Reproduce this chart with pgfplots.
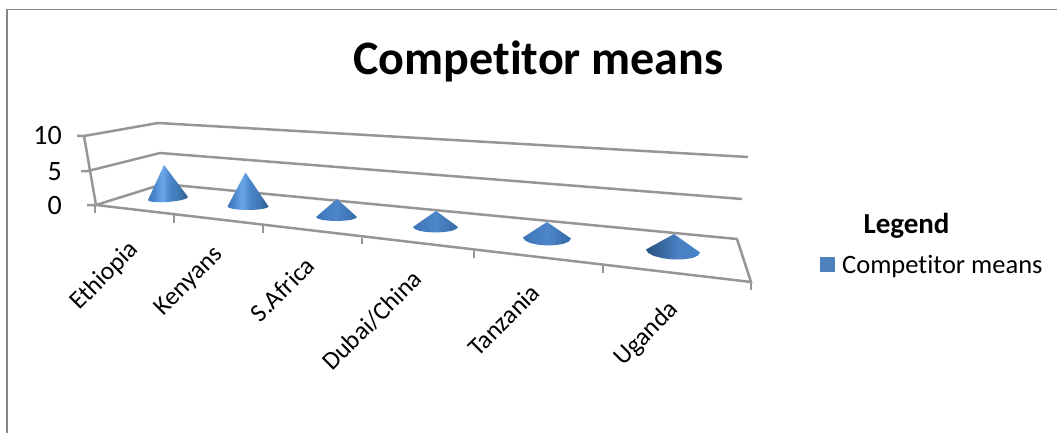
\documentclass[border=0pt]{standalone}
\usepackage{pgfplots}
\usepackage{pgfplotstable}
\usepackage{fontspec}
\pgfplotsset{compat=1.18}
\setmainfont[Ligatures=NoCommon]{Carlito}

\definecolor{framegray}{RGB}{134,134,134}
\definecolor{gridgray}{RGB}{150,150,150}
\definecolor{seriesblue}{RGB}{79,129,189}

% Light falls from the left on the tall cones, head on for the flat ones.
\pgfdeclarehorizontalshading{coneTall}{100bp}{
  rgb(0bp)=(0.24,0.47,0.74);
  rgb(25bp)=(0.24,0.47,0.74);
  rgb(33bp)=(0.29,0.53,0.80);
  rgb(43bp)=(0.42,0.66,0.92);
  rgb(52bp)=(0.29,0.53,0.79);
  rgb(66bp)=(0.24,0.45,0.68);
  rgb(75bp)=(0.17,0.33,0.52);
  rgb(100bp)=(0.17,0.33,0.52)}
\pgfdeclarehorizontalshading{coneFlat}{100bp}{
  rgb(0bp)=(0.24,0.46,0.72);
  rgb(25bp)=(0.24,0.46,0.72);
  rgb(50bp)=(0.30,0.53,0.79);
  rgb(75bp)=(0.21,0.41,0.65);
  rgb(100bp)=(0.21,0.41,0.65)}
\pgfdeclarehorizontalshading{coneLast}{100bp}{
  rgb(0bp)=(0.17,0.32,0.51);
  rgb(25bp)=(0.17,0.32,0.51);
  rgb(42bp)=(0.23,0.42,0.65);
  rgb(55bp)=(0.29,0.51,0.77);
  rgb(75bp)=(0.27,0.50,0.78);
  rgb(100bp)=(0.27,0.50,0.78)}

% Outline of a unit cone: the tip (h=1), then the front rim of its base.
\pgfplotstableread{
u v h
0 0 1
-1 0 0
-0.92 0.38 0
-0.71 0.71 0
-0.38 0.92 0
0 1 0
0.38 0.92 0
0.71 0.71 0
0.92 0.38 0
1 0 0
}\unitcone

% #1 shading, #2 mean value, #3 pixels per unit at this depth,
% #4,#5 base centre, #6,#7 base radii, #8 base tilt, #9 tip x
\newcommand{\cone}[9]{%
  \addplot[draw=none, forget plot, shading=#1, shading angle=0]
    table[x expr={#4+#6*\thisrow{u}+(#9-#4)*\thisrow{h}},
          y expr={#5+#7*\thisrow{v}+#8*\thisrow{u}-#2*#3*\thisrow{h}}]
    {\unitcone} -- cycle;
}
\newcommand{\ticklabel}[3]{%
  \node[font=\fontsize{28}{32}\selectfont, anchor=base east, inner sep=0pt] at (axis cs:#1,#2) {#3};}
\newcommand{\catlabel}[3]{%
  \node[font=\fontsize{25.5}{29}\selectfont, rotate=45, anchor=north east, inner sep=0pt] at (axis cs:#1,#2) {#3};}

\begin{document}
\begin{tikzpicture}
\useasboundingbox (0,0) rectangle (1057pt,433pt);
\begin{axis}[
  at={(0,0)}, anchor=south west,
  scale only axis, width=1057pt, height=433pt,
  xmin=0, xmax=1057, ymin=0, ymax=433, y dir=reverse,
  hide axis, clip=false,
  every axis plot/.append style={no markers},
]
% chart frame
\addplot[framegray, line width=2.2pt] coordinates {(7,433) (7,9.5)};
\addplot[framegray, line width=1.4pt] coordinates {(6,9.5) (1057,9.5)};

% back wall gridlines
\addplot[gridgray, line width=2.5pt] coordinates {(77,136) (84,136) (158,123) (748,157)};
\addplot[gridgray, line width=2.5pt] coordinates {(81,171) (88,171) (160,153) (742,199)};
% floor
\addplot[gridgray, line width=2.5pt] coordinates {(87,205) (96,205) (163,184) (737,239) (751,282) (96,205)};
% value axis edge
\addplot[gridgray, line width=2.5pt] coordinates {(84,136) (96,205)};
% category ticks
\addplot[gridgray, line width=1.8pt] coordinates {(95,205) (95,213)};
\addplot[gridgray, line width=1.8pt] coordinates {(174,215) (174,223)};
\addplot[gridgray, line width=1.8pt] coordinates {(263,225) (263,233)};
\addplot[gridgray, line width=1.8pt] coordinates {(362,238) (362,244)};
\addplot[gridgray, line width=1.8pt] coordinates {(474,251) (474,258)};
\addplot[gridgray, line width=1.8pt] coordinates {(603,266) (603,273)};
\addplot[gridgray, line width=1.8pt] coordinates {(751,282) (751,290)};

% competitor means
\cone{coneTall}{5.0}{6.7}{168}{198.5}{20}{3.5}{-1.5}{164}
\cone{coneTall}{5.0}{6.8}{248}{206.5}{20.5}{3.5}{0}{245.5}
\cone{coneFlat}{2.5}{7.2}{336.5}{217}{20.5}{4}{0}{337}
\cone{coneFlat}{2.2}{7.3}{435.5}{227}{22.5}{5.5}{0}{436}
\cone{coneFlat}{2.1}{7.6}{547}{238}{24}{7.5}{0.5}{547}
\cone{coneLast}{2.15}{7.9}{673}{251}{27}{8.5}{1.5}{674}

% legend swatch
\addplot[draw=none, fill=seriesblue, forget plot] coordinates {(820,257) (835,257) (835,272) (820,272)} -- cycle;

% text
\node[font=\fontsize{48}{53}\selectfont\bfseries, anchor=base] at (axis cs:538.5,75) {Competitor means};
\node[font=\fontsize{29}{33}\selectfont\bfseries, anchor=base] at (axis cs:906.5,233) {Legend};
\node[font=\fontsize{26.5}{30}\selectfont, anchor=base west, inner sep=0pt] at (axis cs:842,273) {Competitor means};
\ticklabel{62}{145}{10}
\ticklabel{62}{180}{5}
\ticklabel{62}{214}{0}
\catlabel{127}{238}{Ethiopia}
\catlabel{212}{244}{Kenyans}
\catlabel{304}{255}{S.Africa}
\catlabel{411}{268}{Dubai/China}
\catlabel{529}{282}{Tanzania}
\catlabel{667}{298}{Uganda}
\end{axis}
\end{tikzpicture}
\end{document}
